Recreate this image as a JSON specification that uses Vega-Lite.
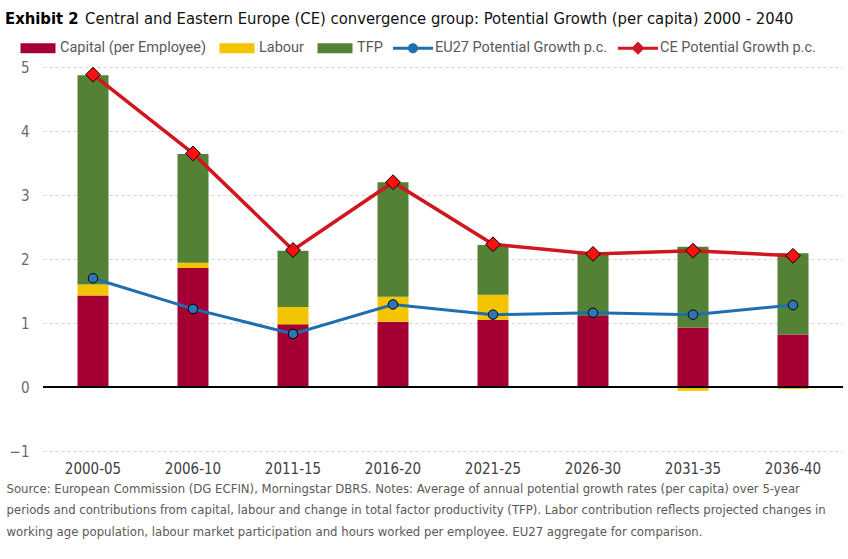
{
  "$schema": "https://vega.github.io/schema/vega-lite/v6.json",
  "autosize": "none",
  "width": 800,
  "height": 384,
  "padding": {"left": 43, "top": 67, "right": 5, "bottom": 108},
  "background": "white",
  "config": {"view": {"stroke": null}, "font": "DejaVu Sans Condensed, Roboto"},
  "title": {
    "text": "Exhibit 2",
    "subtitle": "\u200b\u00a0\u00a0\u00a0\u00a0\u00a0\u00a0\u00a0\u00a0\u00a0\u00a0\u00a0\u00a0\u00a0\u00a0\u00a0\u00a0\u00a0Central and Eastern Europe (CE) convergence group: Potential Growth (per capita) 2000 - 2040",
    "anchor": "start",
    "frame": "group",
    "dx": -38,
    "font": "DejaVu Sans Condensed, Roboto",
    "fontSize": 16.5,
    "fontWeight": "bold",
    "color": "#000000",
    "subtitleFont": "DejaVu Sans Condensed, Roboto",
    "subtitleFontSize": 16.5,
    "subtitleColor": "#111111",
    "subtitlePadding": -16.5,
    "offset": 1
  },
  "data": {
    "values": [
      {"period": "2000-05", "Capital (per Employee)": 1.43, "Labour": 0.17, "TFP": 3.27, "EU27": 1.70, "CE": 4.88},
      {"period": "2006-10", "Capital (per Employee)": 1.86, "Labour": 0.08, "TFP": 1.70, "EU27": 1.22, "CE": 3.65},
      {"period": "2011-15", "Capital (per Employee)": 0.98, "Labour": 0.27, "TFP": 0.88, "EU27": 0.83, "CE": 2.14},
      {"period": "2016-20", "Capital (per Employee)": 1.02, "Labour": 0.39, "TFP": 1.79, "EU27": 1.29, "CE": 3.20},
      {"period": "2021-25", "Capital (per Employee)": 1.05, "Labour": 0.39, "TFP": 0.78, "EU27": 1.13, "CE": 2.23},
      {"period": "2026-30", "Capital (per Employee)": 1.11, "Labour": 0.0, "TFP": 0.97, "EU27": 1.16, "CE": 2.08},
      {"period": "2031-35", "Capital (per Employee)": 0.93, "Labour": -0.06, "TFP": 1.26, "EU27": 1.13, "CE": 2.13},
      {"period": "2036-40", "Capital (per Employee)": 0.82, "Labour": -0.03, "TFP": 1.27, "EU27": 1.28, "CE": 2.05}
    ]
  },
  "layer": [
    {
      "transform": [{"fold": ["Capital (per Employee)", "Labour", "TFP"], "as": ["component", "val"]}],
      "mark": {"type": "bar", "size": 31},
      "encoding": {
        "x": {
          "field": "period", "type": "nominal", "sort": null,
          "scale": {"paddingInner": 0.69, "paddingOuter": 0.345},
          "axis": {
            "labelAngle": 0, "domain": false, "ticks": false,
            "labelFont": "DejaVu Sans Condensed, Roboto", "labelFontSize": 15, "labelColor": "#404040", "labelPadding": 10,
            "title": [
              "Source: European Commission (DG ECFIN), Morningstar DBRS. Notes: Average of annual potential growth rates (per capita) over 5-year",
              "periods and contributions from capital, labour and change in total factor productivity (TFP). Labor contribution reflects projected changes in",
              "working age population, labour market participation and hours worked per employee. EU27 aggregate for comparison."
            ],
            "titleFont": "DejaVu Sans Condensed, Roboto", "titleFontSize": 13, "titleFontWeight": "normal", "titleColor": "#595959",
            "titleAnchor": "start", "titleAlign": "left", "titleBaseline": "top", "titleX": -37, "titleY": 31, "titleLineHeight": 21.5, "titleLimit": 900
          }
        },
        "y": {
          "field": "val", "type": "quantitative", "stack": "zero",
          "scale": {"domain": [-1, 5], "nice": false},
          "axis": {
            "values": [-1, 0, 1, 2, 3, 4, 5], "format": "d", "grid": true, "gridDash": [3, 3], "gridColor": "#d4d4d4",
            "domain": false, "ticks": false, "labelFont": "DejaVu Sans Condensed, Roboto", "labelFontSize": 15,
            "labelColor": "#6a6a6a", "labelPadding": 14, "title": null
          }
        },
        "order": {"field": "component", "sort": "ascending"},
        "color": {
          "field": "component", "type": "nominal",
          "scale": {
            "domain": ["Capital (per Employee)", "Labour", "TFP", "EU27 Potential Growth p.c.", "CE Potential Growth p.c."],
            "range": ["#A50034", "#F2C500", "#538135", "#1F6EB0", "#D0161E"]
          },
          "legend": {
            "orient": "none", "legendX": -25, "legendY": -39, "direction": "horizontal", "title": null,
            "labelFont": "Roboto", "labelFontSize": 14.5, "labelColor": "#595959", "labelOffset": 2, "labelLimit": 400,
            "columnPadding": 10, "symbolSize": 1600, "symbolStrokeWidth": 0,
            "encode": {
              "symbols": {
                "update": {
                  "shape": {"signal": "datum.value === 'EU27 Potential Growth p.c.' ? 'M-1,-0.075L1,-0.075L1,0.075L-1,0.075Z M-0.25,0A0.25,0.25 0 1,1 0.25,0A0.25,0.25 0 1,1 -0.25,0Z' : datum.value === 'CE Potential Growth p.c.' ? 'M-1,-0.075L1,-0.075L1,0.075L-1,0.075Z M0,-0.33L0.33,0L0,0.33L-0.33,0Z' : 'M-0.875,-0.25L0.875,-0.25L0.875,0.25L-0.875,0.25Z'"},
                  "fill": {"signal": "scale('color', datum.value)"},
                  "stroke": {"value": "transparent"},
                  "opacity": {"value": 1}
                }
              }
            }
          }
        }
      }
    },
    {
      "mark": {"type": "rule", "color": "#000000", "strokeWidth": 1.5},
      "encoding": {"y": {"datum": 0}}
    },
    {
      "mark": {"type": "line", "strokeWidth": 3},
      "encoding": {
        "x": {"field": "period", "type": "nominal", "sort": null},
        "y": {"field": "EU27", "type": "quantitative"},
        "color": {"datum": "EU27 Potential Growth p.c."}
      }
    },
    {
      "mark": {"type": "point", "shape": "circle", "size": 90, "filled": true, "fill": "#2E75B6", "stroke": "#000000", "strokeWidth": 1, "opacity": 1},
      "encoding": {
        "x": {"field": "period", "type": "nominal", "sort": null},
        "y": {"field": "EU27", "type": "quantitative"}
      }
    },
    {
      "mark": {"type": "line", "strokeWidth": 3.5},
      "encoding": {
        "x": {"field": "period", "type": "nominal", "sort": null},
        "y": {"field": "CE", "type": "quantitative"},
        "color": {"datum": "CE Potential Growth p.c."}
      }
    },
    {
      "mark": {"type": "point", "shape": "diamond", "size": 220, "filled": true, "fill": "#FF1010", "stroke": "#000000", "strokeWidth": 1, "opacity": 1},
      "encoding": {
        "x": {"field": "period", "type": "nominal", "sort": null},
        "y": {"field": "CE", "type": "quantitative"}
      }
    }
  ]
}
